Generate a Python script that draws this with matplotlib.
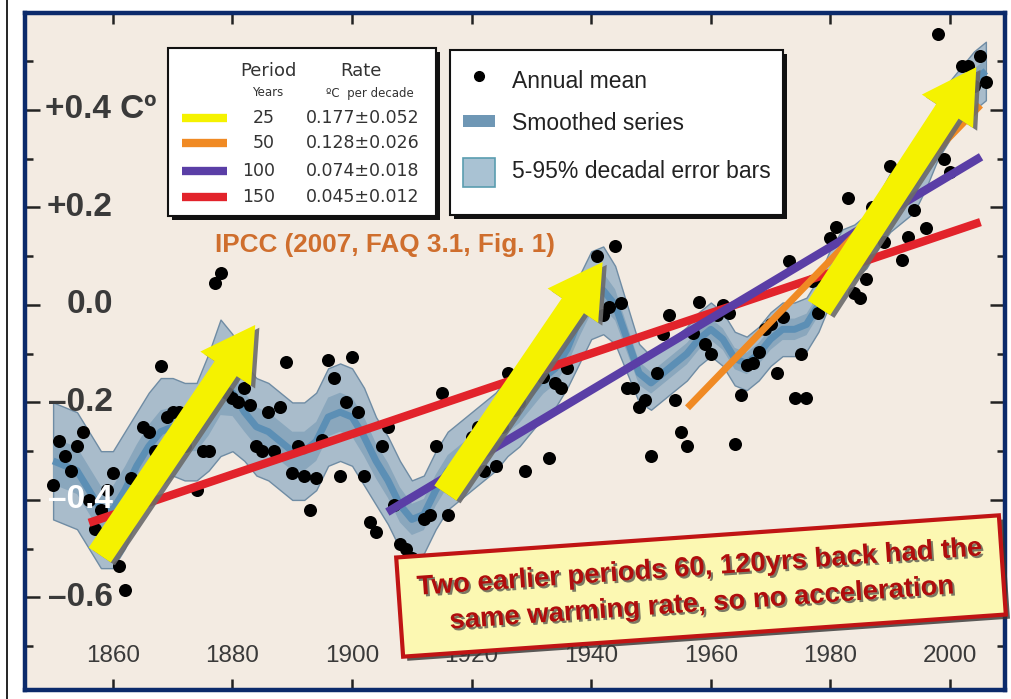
import numpy as np
import matplotlib
matplotlib.use("Agg")
import matplotlib.pyplot as plt
from matplotlib import patheffects as pe
from matplotlib.patches import Rectangle
from matplotlib import font_manager as fm
from matplotlib.transforms import blended_transform_factory

# ---------------- data ----------------
years = np.arange(1850, 2007)
annual_mean = [
    -0.37, -0.28, -0.31, -0.34, -0.29, -0.26, -0.40, -0.46, -0.42, -0.38,     # 1850s
    -0.345, -0.535, -0.585, -0.355, -0.42, -0.25, -0.26, -0.30, -0.125, -0.23,  # 1860s
    -0.22, -0.22, -0.29, -0.26, -0.38, -0.30, -0.30, 0.045, 0.065, -0.18,     # 1870s
    -0.19, -0.20, -0.17, -0.205, -0.29, -0.30, -0.22, -0.30, -0.21, -0.117,   # 1880s
    -0.345, -0.29, -0.35, -0.42, -0.355, -0.277, -0.113, -0.15, -0.35, -0.20,  # 1890s
    -0.107, -0.22, -0.35, -0.445, -0.465, -0.29, -0.25, -0.41, -0.49, -0.50,  # 1900s
    -0.52, -0.53, -0.44, -0.43, -0.29, -0.18, -0.43, -0.38, -0.33, -0.30,     # 1910s
    -0.27, -0.25, -0.34, -0.27, -0.33, -0.25, -0.14, -0.215, -0.20, -0.34,    # 1920s
    -0.13, -0.11, -0.148, -0.315, -0.16, -0.17, -0.13, -0.01, 0.02, 0.02,     # 1930s
    0.05, 0.10, -0.02, -0.004, 0.12, 0.004, -0.17, -0.17, -0.21, -0.195,      # 1940s
    -0.31, -0.14, -0.06, -0.02, -0.195, -0.26, -0.29, -0.058, 0.006, -0.08,   # 1950s
    -0.10, -0.02, 0.00, -0.017, -0.285, -0.185, -0.123, -0.12, -0.096, -0.05, # 1960s
    -0.04, -0.14, -0.025, 0.09, -0.19, -0.10, -0.19, 0.05, -0.016, 0.05,      # 1970s
    0.137, 0.16, 0.07, 0.22, 0.025, 0.014, 0.053, 0.20, 0.18, 0.13,           # 1980s
    0.285, 0.23, 0.092, 0.14, 0.195, 0.31, 0.158, 0.36, 0.556, 0.30,          # 1990s
    0.273, 0.42, 0.49, 0.49, 0.45, 0.51, 0.457,                               # 2000s
]

smooth_years = np.arange(1850, 2007, 2)
smoothed = [
    -0.32, -0.33, -0.34, -0.38, -0.42, -0.42, -0.38, -0.33, -0.29, -0.26,
    -0.25, -0.26, -0.26, -0.22, -0.17, -0.18, -0.22, -0.25, -0.26, -0.28,
    -0.30, -0.30, -0.28, -0.23, -0.22, -0.23, -0.27, -0.32, -0.36, -0.41,
    -0.44, -0.43, -0.38, -0.34, -0.32, -0.30, -0.28, -0.26, -0.23, -0.21,
    -0.18, -0.15, -0.13, -0.09, -0.03, 0.02, 0.03, 0.00, -0.07, -0.14,
    -0.16, -0.14, -0.12, -0.10, -0.07, -0.05, -0.07, -0.11, -0.12, -0.10,
    -0.07, -0.05, -0.05, -0.04, 0.00, 0.06, 0.10, 0.11, 0.13, 0.17,
    0.21, 0.23, 0.25, 0.30, 0.36, 0.40, 0.43, 0.46, 0.48,
]
error_halfwidth = [
    0.12, 0.12, 0.12, 0.12, 0.12, 0.12, 0.12, 0.11, 0.11, 0.11,
    0.10, 0.10, 0.10, 0.12, 0.14, 0.12, 0.10, 0.10, 0.10, 0.10,
    0.10, 0.10, 0.10, 0.10, 0.10, 0.10, 0.10, 0.09, 0.09, 0.09,
    0.08, 0.08, 0.08, 0.08, 0.08, 0.08, 0.08, 0.08, 0.08, 0.08,
    0.08, 0.08, 0.08, 0.08, 0.09, 0.09, 0.09, 0.08, 0.07, 0.06,
    0.055, 0.055, 0.055, 0.055, 0.055, 0.055, 0.055, 0.055, 0.055, 0.055,
    0.055, 0.055, 0.055, 0.055, 0.055, 0.055, 0.055, 0.055, 0.055, 0.055,
    0.06, 0.06, 0.06, 0.06, 0.06, 0.06, 0.06, 0.06, 0.06,
]

# linear trends (start year, start value, end year, end value)
trend_periods = ["25", "50", "100", "150"]
trend_rates = ["0.177\u00b10.052", "0.128\u00b10.026", "0.074\u00b10.018", "0.045\u00b10.012"]
trend_colors = ["#f5f200", "#f08a24", "#5a3ea6", "#e2232b"]
trend_150 = (1856.0, -0.447, 2005.1, 0.170)
trend_100 = (1905.9, -0.425, 2005.2, 0.304)
trend_50 = (1956.1, -0.211, 2005.1, 0.410)
trend_25_arrows = [
    (1857.8, -0.513, 1883.8, -0.041),
    (1915.6, -0.386, 1941.9, 0.088),
    (1978.1, -0.006, 2004.4, 0.488),
]

xtick_years = [1860, 1880, 1900, 1920, 1940, 1960, 1980, 2000]
ytick_vals = [0.4, 0.2, 0.0, -0.2, -0.4, -0.6]
ytick_labels = ["+0.4 C\u00ba", "+0.2", "0.0", "\u20130.2", "\u20130.4", "\u20130.6"]

# ---------------- fonts ----------------
def has_font(name):
    try:
        fm.findfont(fm.FontProperties(family=name), fallback_to_default=False)
        return True
    except Exception:
        return False

if has_font("Liberation Sans Narrow"):
    NARROW, NSCALE = "Liberation Sans Narrow", 1.19
else:
    NARROW, NSCALE = "Liberation Sans", 1.0

W, H = 1012, 699
fig = plt.figure(figsize=(W / 100, H / 100), dpi=100, facecolor="white")

def fx(px):
    return px / W

def fy(py):
    return 1 - py / H

AX_L, AX_R, AX_T, AX_B = 25, 1005, 13, 690
ax = fig.add_axes([fx(AX_L), fy(AX_B), (AX_R - AX_L) / W, (AX_B - AX_T) / H])
ax.set_facecolor("#f3ebe2")
ax.set_xlim(1845.3, 2009.2)
ax.set_ylim(-0.790, 0.599)

for s in ax.spines.values():
    s.set_color("#0b2a6b")
    s.set_linewidth(3.2)

ax.set_xticks(xtick_years)
ax.set_xticklabels([])
ax.set_yticks([-0.6, -0.4, -0.2, 0.0, 0.2, 0.4])
ax.set_yticks([-0.7, -0.5, -0.3, -0.1, 0.1, 0.3, 0.5], minor=True)
ax.set_yticklabels([])
ax.tick_params(axis="x", which="major", direction="in", top=True, bottom=True,
               length=8, width=1.8, color="#222222")
ax.tick_params(axis="y", which="major", direction="in", left=True, right=True,
               length=11, width=1.8, color="#222222")
ax.tick_params(axis="y", which="minor", direction="in", left=True, right=True,
               length=6, width=1.8, color="#222222")

# smoothed series with error band
sm = np.array(smoothed)
hw = np.array(error_halfwidth)
ax.fill_between(smooth_years, sm - hw, sm + hw, facecolor="#a9bccb",
                edgecolor="#6f8ca4", linewidth=1.0, zorder=2)
ax.fill_between(smooth_years, sm - 0.4 * hw, sm + 0.4 * hw, facecolor="#8aa7bd",
                edgecolor="none", zorder=2.1)
ax.plot(smooth_years, sm, color="#5c8fb5", lw=5, solid_joinstyle="round",
        solid_capstyle="butt", zorder=2.2)

# annual means
ax.scatter(years, annual_mean, s=88, color="black", zorder=4, linewidths=0)

# trend lines
for (x0, y0, x1, y1), c, lw in [(trend_150, trend_colors[3], 6),
                                (trend_100, trend_colors[2], 6),
                                (trend_50, trend_colors[1], 5)]:
    ax.plot([x0, x1], [y0, y1], color=c, lw=lw, solid_capstyle="butt", zorder=5)

# yellow 25-yr arrows
for (x0, y0, x1, y1) in trend_25_arrows:
    ax.annotate("", xy=(x1, y1), xytext=(x0, y0), zorder=6,
                arrowprops=dict(arrowstyle="simple,head_length=0.95,head_width=1.1,tail_width=0.48",
                                mutation_scale=40, fc=trend_colors[0], ec="none",
                                shrinkA=0, shrinkB=0,
                                path_effects=[pe.SimplePatchShadow(offset=(3, -2), shadow_rgbFace="#6b6b6b", alpha=0.9),
                                              pe.Normal()]))

# tick labels drawn inside the axes
bx = blended_transform_factory(ax.transData, ax.transAxes)
for yr in xtick_years:
    ax.text(yr, (AX_B - 656) / (AX_B - AX_T), str(yr), transform=bx, ha="center", va="center",
            fontsize=17.5 * NSCALE, family=NARROW, color="#3a3a3a", zorder=3)

by = blended_transform_factory(ax.transAxes, ax.transData)
for v, lab in zip(ytick_vals, ytick_labels):
    col = "white" if abs(v + 0.4) < 1e-6 else "#3a3a3a"
    if lab.startswith("+0.4"):
        ax.text((45 - AX_L) / (AX_R - AX_L), v, lab, transform=by, ha="left", va="center",
                fontsize=24 * NSCALE, family=NARROW, weight="bold", color=col, zorder=7)
    else:
        ax.text((113 - AX_L) / (AX_R - AX_L), v, lab, transform=by, ha="right", va="center",
                fontsize=24 * NSCALE, family=NARROW, weight="bold", color=col, zorder=7)

# IPCC source label
ax.text(fx(215), fy(245), "IPCC (2007, FAQ 3.1, Fig. 1)", transform=fig.transFigure,
        ha="left", va="center", fontsize=18.8 * NSCALE, family=NARROW, weight="bold",
        color="#cf6e2d", zorder=7)

# ---------------- legend boxes ----------------
def box(x0, y0, x1, y1):
    sh = Rectangle((fx(x0 + 4), fy(y1 + 4)), fx(x1 - x0), (y1 - y0) / H, transform=fig.transFigure,
                   facecolor="#111111", edgecolor="none", zorder=8, clip_on=False)
    r = Rectangle((fx(x0), fy(y1)), fx(x1 - x0), (y1 - y0) / H, transform=fig.transFigure,
                  facecolor="white", edgecolor="#111111", lw=1.5, zorder=8.1, clip_on=False)
    ax.add_patch(sh)
    ax.add_patch(r)

box(168, 48, 436, 216)
tf = fig.transFigure
txtc = "#333333"
ax.text(fx(268), fy(71), "Period", transform=tf, ha="center", va="center", fontsize=13,
        family="DejaVu Sans", color=txtc, zorder=9)
ax.text(fx(361), fy(71), "Rate", transform=tf, ha="center", va="center", fontsize=13,
        family="DejaVu Sans", color=txtc, zorder=9)
ax.text(fx(268), fy(93), "Years", transform=tf, ha="center", va="center", fontsize=8.5,
        family="DejaVu Sans", color=txtc, zorder=9)
ax.text(fx(370), fy(93), "\u00baC  per decade", transform=tf, ha="center", va="center", fontsize=8.5,
        family="DejaVu Sans", color=txtc, zorder=9)
row_y = [118, 143, 171, 197]
for ry, per, rate, c in zip(row_y, trend_periods, trend_rates, trend_colors):
    ax.plot([fx(182), fx(227)], [fy(ry), fy(ry)], transform=tf, color=c, lw=6,
            solid_capstyle="butt", zorder=9, clip_on=False)
    ax.text(fx(275), fy(ry), per, transform=tf, ha="right", va="center", fontsize=12.5,
            family="DejaVu Sans", color=txtc, zorder=9)
    ax.text(fx(306), fy(ry), rate, transform=tf, ha="left", va="center", fontsize=12.5,
            family="DejaVu Sans", color=txtc, zorder=9)

box(450, 50, 783, 215)
ax.plot([fx(479)], [fy(76)], transform=tf, marker="o", ms=7, color="black", zorder=9, clip_on=False)
ax.text(fx(512), fy(82), "Annual mean", transform=tf, ha="left", va="center", fontsize=16.5,
        family="Liberation Sans", color="#222222", zorder=9)
ax.add_patch(Rectangle((fx(463), fy(127)), fx(32), 12 / H, transform=tf, facecolor="#6f97b5",
                       edgecolor="none", zorder=9, clip_on=False))
ax.text(fx(512), fy(124), "Smoothed series", transform=tf, ha="left", va="center", fontsize=16.5,
        family="Liberation Sans", color="#222222", zorder=9)
ax.add_patch(Rectangle((fx(463), fy(187)), fx(32), 29 / H, transform=tf, facecolor="#a9c2d3",
                       edgecolor="#5a9db0", lw=1.2, zorder=9, clip_on=False))
ax.text(fx(512), fy(172), "5-95% decadal error bars", transform=tf, ha="left", va="center", fontsize=16.5,
        family="Liberation Sans", color="#222222", zorder=9)

# ---------------- annotation box ----------------
t = ax.text(fx(701), fy(586),
            "Two earlier periods 60, 120yrs back had the\nsame warming rate, so no acceleration",
            transform=tf, ha="center", va="center", multialignment="center", rotation=4,
            rotation_mode="anchor", fontsize=19.8 * NSCALE, family=NARROW, weight="bold",
            color="#b00d0d", zorder=10, linespacing=1.5,
            path_effects=[pe.withSimplePatchShadow(offset=(1.5, -1.5), shadow_rgbFace="#444444", alpha=0.7)],
            bbox=dict(boxstyle="square,pad=0.68", facecolor="#fcf8b2", edgecolor="#c01414", lw=3))
t.get_bbox_patch().set_path_effects([pe.SimplePatchShadow(offset=(3, -3), shadow_rgbFace="#333333", alpha=0.8),
                                     pe.Normal()])

# outer thin border on the left
fig.add_artist(plt.Line2D([fx(7), fx(7)], [0, 1], transform=fig.transFigure, color="black", lw=1.2))

fig.savefig("out.png", dpi=100, facecolor="white")
